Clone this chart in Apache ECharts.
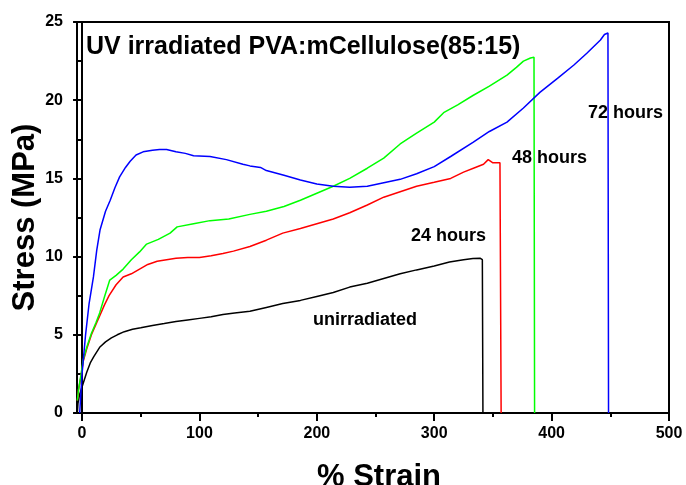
<!DOCTYPE html>
<html>
<head>
<meta charset="utf-8">
<script src="https://cdn.jsdelivr.net/npm/echarts@6/dist/echarts.min.js"></script>
<style>
  html, body { margin: 0; padding: 0; background: #fff; }
  #chart { width: 686px; height: 485px; }
</style>
</head>
<body>
<div id="chart"></div>
<script>
// stress-strain curves, [% strain, stress MPa]
var unirradiated = [
  [-4, 0], [-3.5, 0.6], [-2, 1.2], [1, 1.9], [4, 2.6], [7, 3.2], [10, 3.6], [15, 4.2],
  [20, 4.55], [25, 4.8], [30, 5.0], [36, 5.2], [43, 5.35], [50, 5.45], [60, 5.6],
  [70, 5.72], [80, 5.85], [90, 5.95], [100, 6.05], [110, 6.15], [120, 6.3], [130, 6.4],
  [143, 6.5], [157, 6.75], [171, 7.0], [186, 7.2], [200, 7.45], [214, 7.7], [228, 8.05],
  [243, 8.3], [257, 8.6], [271, 8.9], [285, 9.15], [300, 9.4], [313, 9.65], [325, 9.8],
  [333, 9.88], [339, 9.9], [341, 9.8], [341.5, 0]
];
var hours24 = [
  [-4, 0.8], [-3, 1.5], [-1, 2.3], [1, 3.3], [4, 4.1], [8, 5.0], [12, 5.7], [15, 6.2],
  [19, 6.9], [23, 7.5], [29, 8.2], [35, 8.7], [42, 8.9], [49, 9.2], [56, 9.5], [64, 9.7],
  [72, 9.8], [80, 9.9], [90, 9.95], [100, 9.95], [110, 10.05], [120, 10.2], [129, 10.35],
  [143, 10.65], [157, 11.05], [171, 11.5], [186, 11.8], [200, 12.1], [214, 12.4],
  [228, 12.8], [243, 13.3], [257, 13.8], [271, 14.15], [285, 14.5], [300, 14.75],
  [314, 15.0], [325, 15.4], [335, 15.7], [342, 15.9], [346, 16.2], [350, 16.0],
  [356, 16.0], [357, 0]
];
var hours48 = [
  [-4, 0.8], [-3, 1.5], [-1, 2.4], [1, 3.4], [4, 4.2], [8, 5.1], [12, 5.8], [15, 6.4],
  [19, 7.4], [23.6, 8.5], [29, 8.8], [35, 9.2], [42, 9.8], [49, 10.3], [55, 10.8],
  [65, 11.1], [75, 11.5], [81, 11.9], [95, 12.1], [109, 12.3], [125, 12.4], [143, 12.7],
  [157, 12.9], [172, 13.2], [186, 13.6], [200, 14.05], [214, 14.5], [228, 15.0],
  [243, 15.65], [257, 16.3], [271, 17.2], [285, 17.9], [300, 18.6], [308, 19.2],
  [320, 19.7], [333, 20.3], [347, 20.9], [362, 21.6], [370, 22.1], [376, 22.5],
  [382, 22.7], [385, 22.75], [385.5, 0]
];
var hours72 = [
  [-2, 0], [0, 2.5], [3, 5], [6, 7], [9.7, 8.7], [12.5, 10.4], [15.3, 11.7], [20, 12.9],
  [24, 13.6], [28, 14.4], [32, 15.1], [37, 15.7], [41, 16.1], [46, 16.5], [52, 16.7],
  [60, 16.8], [66, 16.85], [72, 16.85], [80, 16.7], [88, 16.6], [95, 16.45], [109, 16.4],
  [123, 16.2], [137, 15.9], [143, 15.8], [152, 15.7], [157, 15.5], [172, 15.2],
  [186, 14.9], [200, 14.64], [214, 14.5], [228, 14.43], [243, 14.5], [257, 14.72],
  [271, 14.94], [285, 15.3], [300, 15.75], [314, 16.4], [333, 17.3], [347, 18.0],
  [362, 18.6], [376, 19.5], [390, 20.5], [405, 21.4], [419, 22.25], [430, 23.0],
  [441.6, 23.85], [445, 24.2], [448, 24.3], [448.5, 0]
];
var xMajorTicks = [0, 100, 200, 300, 400, 500];
var xMinorTicks = [50, 150, 250, 350, 450];
var seriesNames = ["unirradiated", "24 hours", "48 hours", "72 hours"];

var font = "'Liberation Sans', Arial, sans-serif";
var myChart = echarts.init(document.getElementById("chart"));

function curve(name, data, color) {
  return {
    name: name,
    type: "line",
    data: data,
    showSymbol: false,
    symbol: "none",
    animation: false,
    lineStyle: { color: color, width: 1.5 },
  };
}

function label(text, x, y) {
  return {
    type: "text",
    x: x,
    y: y,
    style: {
      text: text,
      fill: "#000",
      font: "bold 18px " + font,
      textAlign: "left",
      textVerticalAlign: "middle",
    },
  };
}

var option = {
  backgroundColor: "#fff",
  animation: false,
  grid: {
    left: 77,
    right: 17,
    top: 22,
    bottom: 72,
    show: true,
    borderColor: "#000",
    borderWidth: 2,
    containLabel: false,
    outerBoundsMode: "none",
  },
  xAxis: [
    {
      type: "value",
      min: -4.3,
      max: 500,
      position: "bottom",
      offset: 0,
      name: "% Strain",
      nameLocation: "middle",
      nameGap: 49,
      nameMoveOverlap: false,
      nameTextStyle: { fontSize: 31, fontWeight: "bold", color: "#000", fontFamily: font, padding: [0, 0, 0, 12] },
      axisLine: { show: true, lineStyle: { color: "#000", width: 2 } },
      axisTick: { show: true, inside: false, length: 8, customValues: xMajorTicks, lineStyle: { color: "#000", width: 2 } },
      axisLabel: { customValues: xMajorTicks, fontSize: 16, fontWeight: "bold", color: "#000", fontFamily: font, margin: 13 },
      splitLine: { show: false },
    },
    {
      type: "value",
      min: -4.3,
      max: 500,
      position: "bottom",
      offset: 0,
      axisLine: { show: false },
      axisTick: { show: true, inside: false, length: 4, customValues: xMinorTicks, lineStyle: { color: "#000", width: 2 } },
      axisLabel: { show: false },
      splitLine: { show: false },
    },
  ],
  yAxis: {
    type: "value",
    min: 0,
    max: 25,
    interval: 5,
    name: "Stress (MPa)",
    nameLocation: "middle",
    nameGap: 36,
    nameMoveOverlap: false,
    nameTextStyle: { fontSize: 31, fontWeight: "bold", color: "#000", fontFamily: font },
    axisLine: { show: true, lineStyle: { color: "#000", width: 2 } },
    axisTick: { show: true, inside: false, length: 9, lineStyle: { color: "#000", width: 2 } },
    minorTick: { show: true, splitNumber: 2, length: 5, lineStyle: { color: "#000", width: 2 } },
    axisLabel: { fontSize: 16, fontWeight: "bold", color: "#000", fontFamily: font, margin: 14 },
    splitLine: { show: false },
    minorSplitLine: { show: false },
  },
  graphic: [
    {
      type: "text",
      x: 86,
      y: 35,
      style: {
        text: "UV irradiated PVA:mCellulose(85:15)",
        fill: "#000",
        font: "bold 25px " + font,
        textAlign: "left",
        textVerticalAlign: "top",
      },
    },
    label(seriesNames[3], 588, 113),
    label(seriesNames[2], 512, 158),
    label(seriesNames[1], 411, 236),
    label(seriesNames[0], 313, 320),
  ],
  series: [
    curve(seriesNames[0], unirradiated, "#000000"),
    curve(seriesNames[1], hours24, "#ff0000"),
    curve(seriesNames[2], hours48, "#00ff00"),
    curve(seriesNames[3], hours72, "#0000ff"),
  ],
};
myChart.setOption(option);
</script>
</body>
</html>
